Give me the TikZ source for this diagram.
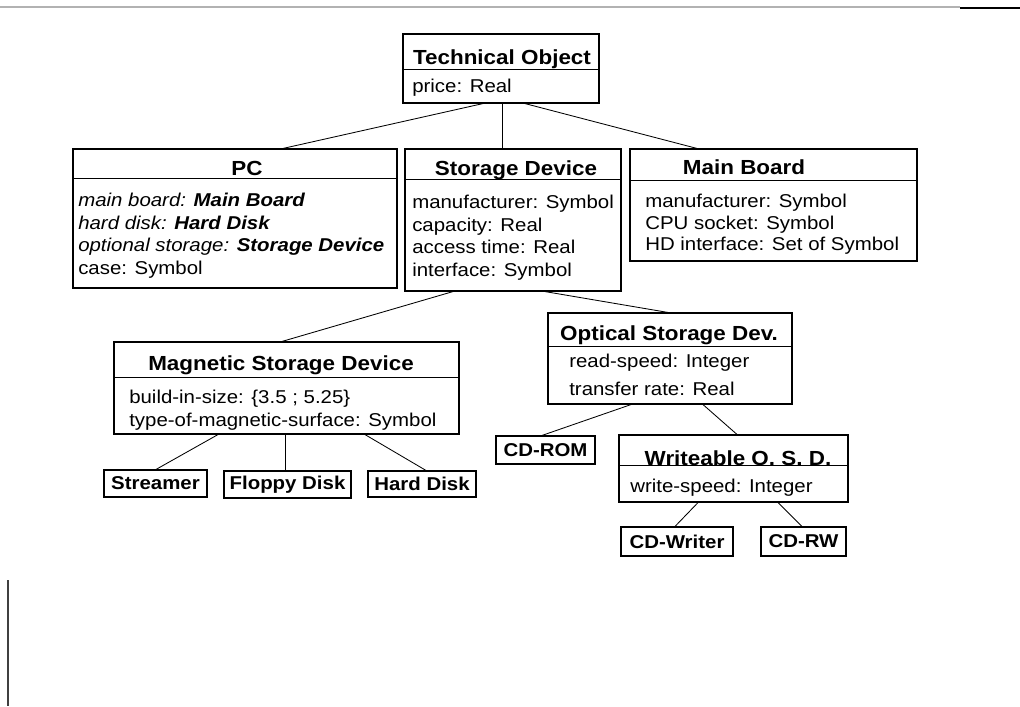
\documentclass[tikz,border=0pt]{standalone}
\usepackage{fontspec}
\setmainfont{Liberation Sans}[FakeStretch=1.1]
\usetikzlibrary{calc}

\newcommand{\titlefont}{\fontsize{14.5}{17}\selectfont\bfseries}
\newcommand{\leaffont}{\fontsize{13.2}{16}\selectfont\bfseries}

\tikzset{
  cls/.style 2 args={draw, line width=0.8pt, inner sep=0pt,
    minimum width=#1*0.025cm, minimum height=#2*0.025cm},
  leaf/.style 2 args={cls={#1}{#2}, font=\leaffont},
  title/.style={anchor=base, inner sep=0pt, font=\titlefont},
  attr/.style={anchor=north west, inner sep=0pt, align=left,
    font=\fontsize{13.2}{#1}\selectfont},
  attr/.default=16,
  link/.style={line width=0.6pt},
}

\begin{document}
\begin{tikzpicture}[x=0.025cm, y=-0.025cm]
\useasboundingbox (0,0) rectangle (1020,706);

% page edges of the scan
\draw[black!30, line width=0.8pt] (0,7) -- (960,7);
\draw[line width=1.3pt] (960,8) -- (1020,8);
\draw[black!75, line width=1.3pt] (8,580) -- (8,706);

% class boxes
\node[cls={196}{69}]  (to)   at (501,68.5)  {};
\node[cls={324}{139}] (pc)   at (235,218.5) {};
\node[cls={216}{142}] (sd)   at (513,220)   {};
\node[cls={287}{112}] (mb)   at (773.5,205) {};
\node[cls={345}{92}]  (msd)  at (286.5,388) {};
\node[cls={244}{91}]  (osd)  at (670,358.5) {};
\node[cls={229}{67}]  (wosd) at (733.5,468.5) {};

% header lines
\draw[line width=0.8pt] ($(to.north west)+(0,36)$)   -- ($(to.north east)+(0,36)$);
\draw[line width=0.8pt] ($(pc.north west)+(0,30)$)   -- ($(pc.north east)+(0,30)$);
\draw[line width=0.8pt] ($(sd.north west)+(0,31)$)   -- ($(sd.north east)+(0,31)$);
\draw[line width=0.8pt] ($(mb.north west)+(0,32)$)   -- ($(mb.north east)+(0,32)$);
\draw[line width=0.8pt] ($(msd.north west)+(0,36)$)  -- ($(msd.north east)+(0,36)$);
\draw[line width=0.8pt] ($(osd.north west)+(0,34)$)  -- ($(osd.north east)+(0,34)$);
\draw[line width=0.8pt] ($(wosd.north west)+(0,31)$) -- ($(wosd.north east)+(0,31)$);

% class names
\node[title] (to-name)   at (502,64)  {Technical Object};
\node[title] (pc-name)   at (247,175) {PC};
\node[title] (sd-name)   at (516,175) {Storage Device};
\node[title] (mb-name)   at (744,174) {Main Board};
\node[title] (msd-name)  at (281,370) {Magnetic Storage Device};
\node[title] (osd-name)  at (669,340) {Optical Storage Dev.};
\node[title] (wosd-name) at (738,465) {Writeable O. S. D.};

% attributes
\node[attr] (to-attr) at (412,79) {price: Real};
\node[attr] (pc-attr) at (78,193) {\itshape main board: \bfseries Main Board\\
  \itshape hard disk: \bfseries Hard Disk\\
  \itshape optional storage: \bfseries Storage Device\\
  case: Symbol};
\node[attr] (sd-attr) at (412,195) {manufacturer: Symbol\\ capacity: Real\\
  access time: Real\\ interface: Symbol};
\node[attr=15.3] (mb-attr) at (645,194) {manufacturer: Symbol\\ CPU socket: Symbol\\
  HD interface: Set of Symbol};
\node[attr=16.4] (msd-attr) at (129,390) {build-in-size: \{3.5 ; 5.25\}\\
  type-of-magnetic-surface: Symbol};
\node[attr=20] (osd-attr) at (569,354) {read-speed: Integer\\ transfer rate: Real};
\node[attr] (wosd-attr) at (630,479) {write-speed: Integer};

% leaf classes
\node[leaf={103}{27}] (streamer) at (155.5,483.5) {Streamer};
\node[leaf={127}{27}] (floppy)   at (287.5,484.5) {Floppy Disk};
\node[leaf={108}{26}] (hard)     at (422,484)     {Hard Disk};
\node[leaf={99}{28}]  (cdrom)    at (545.5,450)   {CD-ROM};
\node[leaf={112}{29}] (cdwriter) at (677,541.5)   {CD-Writer};
\node[leaf={85}{29}]  (cdrw)     at (803.5,541.5) {CD-RW};

% generalisation links
\draw[link] ($(to.south)+(-18,0)$)  -- ($(pc.north)+(48,0)$);
\draw[link] ($(to.south)+(1,0)$)    -- ($(sd.north)+(-11,0)$);
\draw[link] ($(to.south)+(24,0)$)   -- ($(mb.north)+(-76.5,0)$);
\draw[link] ($(sd.south)+(-60,0)$)  -- ($(msd.north)+(-4.5,0)$);
\draw[link] ($(sd.south)+(32,0)$)   -- ($(osd.north)+(-2,0)$);
\draw[link] ($(msd.south)+(-68.5,0)$) -- ($(streamer.north)+(0.5,0)$);
\draw[link] ($(msd.south)+(-1.5,0)$)  -- ($(floppy.north)+(-2.5,0)$);
\draw[link] ($(msd.south)+(78.5,0)$)  -- ($(hard.north)+(4,0)$);
\draw[link] ($(osd.south)+(-39,0)$)   -- ($(cdrom.north)+(-3.5,0)$);
\draw[link] ($(osd.south)+(33,0)$)    -- ($(wosd.north)+(3.5,0)$);
\draw[link] ($(wosd.south)+(-35.5,0)$) -- ($(cdwriter.north)+(-2,0)$);
\draw[link] ($(wosd.south)+(44.5,0)$)  -- ($(cdrw.north)+(-1.5,0)$);
\end{tikzpicture}
\end{document}
